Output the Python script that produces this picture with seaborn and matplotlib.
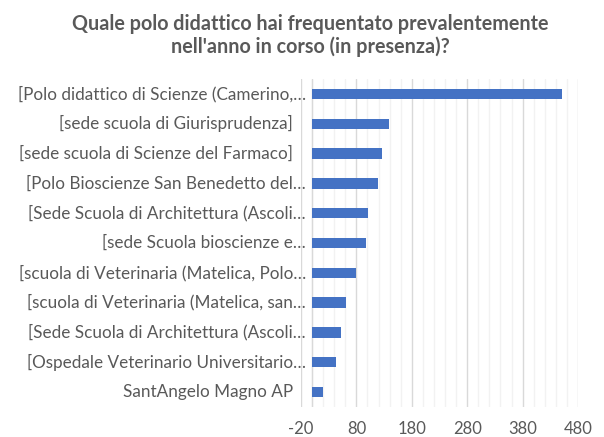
import matplotlib
matplotlib.use("Agg")
import matplotlib.pyplot as plt
import matplotlib.transforms as mtransforms
from matplotlib.ticker import MultipleLocator
import seaborn as sns
import pandas as pd

categories = [
    "[Polo didattico di Scienze (Camerino,…",
    "[sede scuola di Giurisprudenza]",
    "[sede scuola di Scienze del Farmaco]",
    "[Polo Bioscienze San Benedetto del…",
    "[Sede Scuola di Architettura (Ascoli…",
    "[sede Scuola bioscienze e…",
    "[scuola di Veterinaria (Matelica, Polo…",
    "[scuola di Veterinaria (Matelica, san…",
    "[Sede Scuola di Architettura (Ascoli…",
    "[Ospedale Veterinario Universitario…",
    "SantAngelo Magno AP",
]
values = [452, 139, 126, 119, 101, 98, 79, 61, 52, 43, 19]
x_ticks = [-20, 80, 180, 280, 380, 480]
title = "Quale polo didattico hai frequentato prevalentemente\nnell'anno in corso (in presenza)?"

sns.set_theme(style="white")
plt.rcParams["font.family"] = ["Lato", "DejaVu Sans"]

df = pd.DataFrame({"cat": categories, "val": values, "idx": range(len(categories))})

fig = plt.figure(figsize=(6.04, 4.37), dpi=100)
ax = fig.add_axes([301/604, 1-407/437, 277/604, 328/437])

sns.barplot(data=df, x="val", y="idx", orient="h", color="#4472C4",
            width=0.35, saturation=1, ax=ax, zorder=3, edgecolor="#4472C4", linewidth=0)

ax.set_xlim(-20, 480)
ax.set_ylim(len(categories) - 0.5, -0.5)
ax.set_xticks(x_ticks)
ax.set_xticklabels([str(t) for t in x_ticks])
ax.xaxis.set_minor_locator(MultipleLocator(20))
ax.grid(False)
ax.grid(which="minor", axis="x", color="#f2f2f2", linewidth=1, zorder=0)
ax.grid(which="major", axis="x", color="#d9d9d9", linewidth=1, zorder=1)
ax.axvline(0, color="#d9d9d9", linewidth=1, zorder=2)
for s in ax.spines.values():
    s.set_visible(False)
ax.set_xlabel("")
ax.set_ylabel("")
ax.set_yticks(range(len(categories)))
ax.set_yticklabels([])
ax.tick_params(axis="both", length=0, labelsize=12, colors="#595959")
ax.tick_params(axis="x", pad=10)

trans = mtransforms.blended_transform_factory(ax.transAxes, ax.transData)
for i, lab in enumerate(categories):
    xpos = 0.018 if lab.endswith("…") else -0.029
    ax.text(xpos, i, lab, ha="right", va="center", transform=trans,
            fontsize=12.3, color="#595959", zorder=5)

fig.suptitle(title, x=0.514, y=0.968, fontsize=14.2, fontweight="bold",
             color="#595959", va="top", linespacing=1.15)

fig.savefig("out.png", dpi=100)
